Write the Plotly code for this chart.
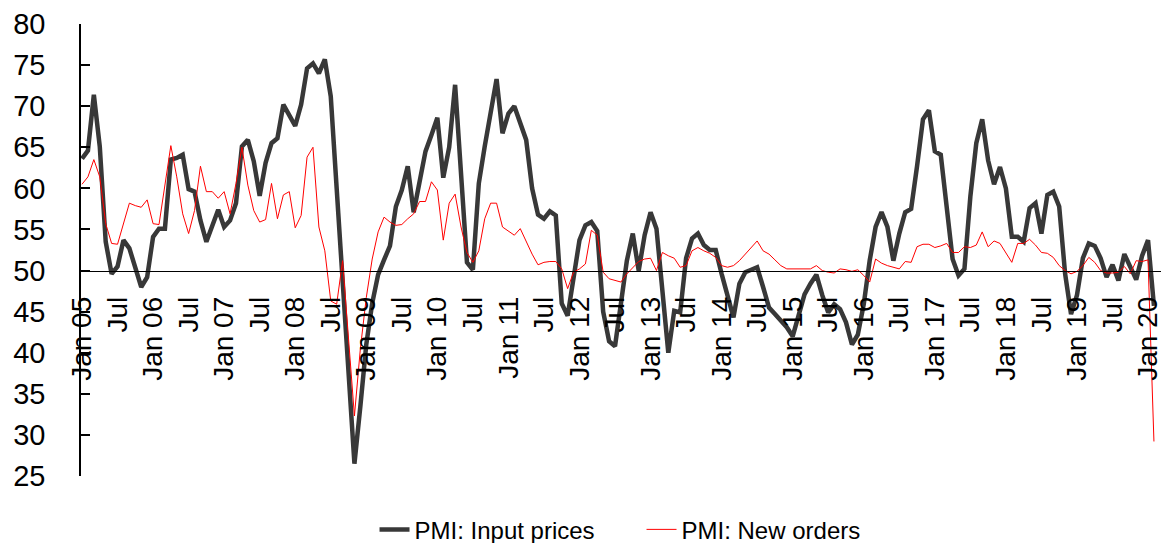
import plotly.graph_objects as go

# Monthly categories Jan 2005 .. Feb 2020
MONTH_NAMES = ["Jan", "Feb", "Mar", "Apr", "May", "Jun", "Jul", "Aug", "Sep", "Oct", "Nov", "Dec"]
years = list(range(2005, 2021))
months = [f"{m} {str(y)[2:]}" for y in years for m in MONTH_NAMES][:182]

input_prices = [
    63.6, 64.6, 71.4, 65.1, 53.5, 49.6, 50.5, 53.7, 52.7, 50.2, 48.0, 49.2,   # 2005
    54.1, 55.1, 55.1, 63.5, 63.7, 64.1, 59.9, 59.6, 56.1, 53.5, 55.3, 57.4,   # 2006
    55.3, 56.1, 58.2, 65.1, 65.9, 63.3, 59.1, 63.1, 65.5, 66.1, 70.2, 69.0,   # 2007
    67.6, 70.2, 74.6, 75.2, 74.0, 75.7, 71.2, 60.0, 48.5, 37.5, 26.5, 33.5,   # 2008
    41.0, 46.0, 49.5, 51.3, 53.0, 57.8, 59.8, 62.7, 57.1, 60.8, 64.5, 66.5,   # 2009
    68.6, 61.3, 65.0, 72.6, 61.8, 51.0, 50.1, 60.6, 65.1, 69.6, 73.3, 66.7,   # 2010
    69.1, 70.0, 67.8, 65.9, 60.0, 56.8, 56.3, 57.2, 56.7, 46.0, 44.5, 49.0,   # 2011
    53.7, 55.5, 55.9, 54.8, 45.0, 41.4, 40.8, 46.0, 51.2, 54.5, 50.0, 54.3,   # 2012
    57.1, 55.1, 48.0, 40.0, 45.1, 44.9, 51.5, 53.9, 54.5, 53.1, 52.5, 52.5,   # 2013
    49.6, 47.1, 44.3, 48.4, 49.8, 50.1, 50.4, 48.0, 45.5, 44.7, 43.9, 43.1,   # 2014
    42.0, 44.7, 47.1, 48.4, 49.5, 47.0, 44.9, 45.9, 45.3, 43.7, 41.0, 42.2,   # 2015
    45.9, 51.2, 55.3, 57.1, 55.3, 51.2, 54.5, 57.1, 57.5, 62.7, 68.4, 69.5,   # 2016
    64.5, 64.1, 57.8, 51.4, 49.4, 50.2, 59.0, 65.5, 68.4, 63.4, 60.5, 62.6,   # 2017
    60.0, 54.1, 54.1, 53.5, 57.6, 58.2, 54.5, 59.2, 59.6, 57.8, 49.6, 44.7,   # 2018
    47.0, 51.5, 53.3, 53.0, 51.5, 49.2, 50.7, 48.8, 52.0, 50.4, 48.9, 51.8,   # 2019
    53.7, 45.7,                                                               # 2020
]

new_orders = [
    60.5, 61.4, 63.5, 61.4, 55.7, 53.3, 53.2, 55.7, 58.2, 57.9, 57.7, 58.6,   # 2005
    55.7, 55.6, 60.4, 65.2, 61.4, 56.9, 54.5, 57.3, 62.7, 59.6, 59.6, 58.8,   # 2006
    59.6, 56.9, 60.6, 65.0, 60.4, 57.3, 55.9, 56.2, 60.6, 56.3, 59.2, 59.6,   # 2007
    55.2, 56.7, 63.8, 65.0, 55.3, 52.4, 46.3, 45.9, 51.2, 41.7, 32.3, 40.5,   # 2008
    46.7, 51.4, 54.7, 56.5, 55.9, 55.5, 55.6, 56.3, 56.9, 58.4, 58.4, 60.8,   # 2009
    59.8, 53.7, 58.2, 59.3, 55.3, 52.2, 51.0, 52.4, 56.3, 58.2, 58.2, 55.3,   # 2010
    54.8, 54.3, 55.1, 53.5, 52.0, 50.7, 51.0, 51.1, 51.1, 50.2, 47.8, 49.8,   # 2011
    50.2, 50.8, 54.9, 54.3, 49.8, 49.0, 48.8, 48.6, 49.6, 50.4, 51.1, 51.4,   # 2012
    51.5, 50.0, 52.2, 51.8, 51.5, 50.4, 50.6, 52.4, 52.8, 52.4, 52.1, 51.6,   # 2013
    50.6, 50.4, 50.6, 51.2, 52.0, 52.8, 53.6, 52.4, 52.0, 51.3, 50.6, 50.2,   # 2014
    50.2, 50.2, 50.2, 50.2, 50.6, 50.0, 49.8, 49.7, 50.2, 50.1, 49.9, 50.1,   # 2015
    49.4, 48.6, 51.4, 50.9, 50.6, 50.4, 50.2, 51.1, 51.0, 52.9, 53.2, 53.2,   # 2016
    52.8, 53.0, 53.3, 52.2, 52.2, 52.9, 52.8, 53.1, 54.7, 52.9, 53.6, 53.3,   # 2017
    52.2, 51.0, 53.3, 53.3, 53.8, 53.1, 52.2, 52.1, 51.6, 50.6, 50.0, 49.6,   # 2018
    49.9, 50.6, 51.6, 51.0, 50.0, 49.7, 49.7, 49.8, 50.5, 49.6, 51.2, 51.1,   # 2019
    51.3, 29.2,                                                               # 2020
]

# Tick labels every 6 months
tick_vals = months[::6]
tick_text = [m if m.startswith("Jan") else "Jul" for m in tick_vals]

FONT = "Liberation Sans, Arial, sans-serif"

fig = go.Figure()
fig.add_trace(go.Scatter(
    x=months, y=input_prices, mode="lines", name="PMI: Input prices",
    line=dict(color="#383838", width=4.5),
))
fig.add_trace(go.Scatter(
    x=months, y=new_orders, mode="lines", name="PMI: New orders",
    line=dict(color="#ff0000", width=1),
))

fig.update_layout(
    width=1162, height=543,
    margin=dict(l=81, r=1, t=24, b=67, autoexpand=False),
    paper_bgcolor="white", plot_bgcolor="white",
    font=dict(family=FONT, color="black"),
    showlegend=True,
    legend=dict(
        orientation="h", x=0.519, xanchor="center", y=-0.119, yanchor="middle",
        font=dict(size=24, family=FONT, color="black"),
        bgcolor="rgba(0,0,0,0)",
        entrywidth=222, entrywidthmode="pixels",
    ),
    xaxis=dict(
        type="category",
        categoryorder="array", categoryarray=months,
        range=[-0.17, 182.19],
        anchor="free", position=(50 - 25) / (80 - 25),
        automargin=False,
        showline=True, linecolor="black", linewidth=1,
        showgrid=False, zeroline=False,
        ticks="",
        tickmode="array", tickvals=tick_vals, ticktext=tick_text,
        tickangle=-90,
        tickfont=dict(size=28, family=FONT, color="black"),
        ticklabelstandoff=14,
    ),
    yaxis=dict(
        range=[25, 80], domain=[0, 1],
        automargin=False,
        tickmode="linear", tick0=25, dtick=5,
        showline=True, linecolor="black", linewidth=1.5,
        ticks="inside", ticklen=9, tickwidth=1.5, tickcolor="black",
        showgrid=False, zeroline=False,
        tickfont=dict(size=29, family=FONT, color="black"),
        ticklabelstandoff=28,
    ),
)

# remove the default 8px page margin so the figure fills the window exactly
fig.write_html(
    "out.html",
    config={"displayModeBar": False},
    post_script="document.body.style.margin='0';document.body.style.overflow='hidden';",
)
